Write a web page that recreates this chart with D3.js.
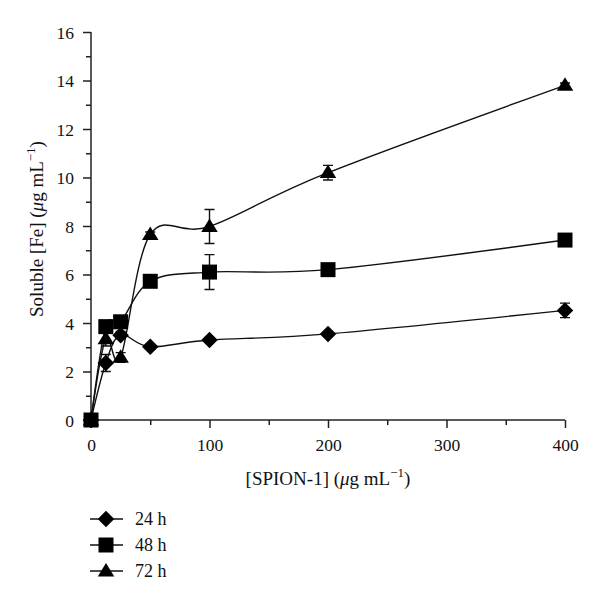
<!DOCTYPE html>
<html><head><meta charset="utf-8">
<script src="https://cdn.jsdelivr.net/npm/d3@7"></script>
<style>body{margin:0;background:#fff}svg{display:block}</style>
</head><body>
<svg id="c" width="600" height="594" font-family="'Liberation Serif', 'DejaVu Serif', serif"></svg>
<script>
const concentrations = [0, 12.5, 25, 50, 100, 200, 400];
const seriesNames = ["24 h", "48 h", "72 h"];
const values24 = [0, 2.35, 3.5, 3.02, 3.3, 3.55, 4.52];
const values48 = [0, 3.85, 4.05, 5.72, 6.1, 6.2, 7.42];
const values72 = [0, 3.35, 2.58, 7.65, 7.98, 10.2, 13.8];
const errors24 = [0, 0.35, 0.15, 0.1, 0.1, 0.1, 0.3];
const errors48 = [0, 0.15, 0.15, 0.1, 0.72, 0.1, 0.1];
const errors72 = [0, 0.3, 0.2, 0.1, 0.7, 0.3, 0.1];
const symbols = ["diamond", "square", "triangle"];
const xTicks = [0, 50, 100, 150, 200, 250, 300, 350, 400];
const xTickLabels = [0, 100, 200, 300, 400];
const yTicks = [0,1,2,3,4,5,6,7,8,9,10,11,12,13,14,15,16];
const yTickLabels = [0, 2, 4, 6, 8, 10, 12, 14, 16];

const FONT = "'Liberation Serif', 'DejaVu Serif', serif";
const svg = d3.select("#c");
const x = d3.scaleLinear().domain([0, 400]).range([91, 565]);
const y = d3.scaleLinear().domain([0, 16]).range([420, 32]);
const axisColor = "#222";

const gx = svg.append("g").attr("transform", "translate(0,420)");
gx.call(d3.axisBottom(x).tickValues(xTicks).tickSize(5).tickFormat(""));
gx.attr("font-family", FONT);
gx.selectAll(".tick line").filter(d => xTickLabels.includes(d)).attr("y2", 8);
gx.select(".domain").attr("d", `M${x(0)},0H${x(400)}`);
gx.selectAll(".tick").filter(d => xTickLabels.includes(d)).append("text")
  .attr("y", 31).attr("text-anchor", "middle").attr("font-size", 17.5).attr("font-family", FONT).attr("fill", "#111").text(d => d);

const gy = svg.append("g").attr("transform", "translate(91,0)");
gy.call(d3.axisLeft(y).tickValues(yTicks).tickSize(5).tickFormat(""));
gy.attr("font-family", FONT);
gy.selectAll(".tick line").filter(d => yTickLabels.includes(d)).attr("x2", -8);
gy.select(".domain").attr("d", `M0,${y(16)}V${y(0)}`);
gy.selectAll(".tick").filter(d => yTickLabels.includes(d)).append("text")
  .attr("x", -17).attr("dy", "0.35em").attr("text-anchor", "end").attr("font-size", 17.5).attr("font-family", FONT).attr("fill", "#111").text(d => d);

svg.selectAll(".domain, .tick line").attr("stroke", axisColor).attr("stroke-width", 1.5);

function symPath(type, s) {
  if (type === "diamond") return `M0,${-s*0.55}L${s*0.55},0L0,${s*0.55}L${-s*0.55},0Z`;
  if (type === "square") return `M${-s/2},${-s/2}h${s}v${s}h${-s}Z`;
  const h = s * 0.9;
  return `M0,${-h*0.6}L${s*0.55},${h*0.4}L${-s*0.55},${h*0.4}Z`;
}

const series = [
  {name: seriesNames[0], vals: values24, errs: errors24, sym: symbols[0]},
  {name: seriesNames[1], vals: values48, errs: errors48, sym: symbols[1]},
  {name: seriesNames[2], vals: values72, errs: errors72, sym: symbols[2]}
];

const line = d3.line().x(d => x(d[0])).y(d => y(d[1])).curve(d3.curveCardinal.tension(0));

series.forEach(s => {
  const pts = concentrations.map((c, i) => [c, s.vals[i], s.errs[i]]);
  svg.append("path").attr("d", line(pts)).attr("fill", "none").attr("stroke", "#111").attr("stroke-width", 1.4);
  const eg = svg.append("g");
  pts.forEach(p => {
    if (p[2] <= 0) return;
    const y1 = y(p[1] + p[2]), y2 = y(p[1] - p[2]), cx = x(p[0]);
    eg.append("path").attr("d", `M${cx},${y1}V${y2}M${cx-5},${y1}H${cx+5}M${cx-5},${y2}H${cx+5}`)
      .attr("stroke", "#111").attr("stroke-width", 1.4).attr("fill", "none");
  });
});
series.forEach(s => {
  svg.append("g").selectAll("path").data(concentrations.map((c, i) => [c, s.vals[i]])).join("path")
    .attr("transform", d => `translate(${x(d[0])},${y(d[1])})`)
    .attr("d", symPath(s.sym, 15)).attr("fill", "#000");
});

function richTitle(sel, prefix) {
  sel.attr("font-family", FONT).attr("fill", "#111");
  sel.append("tspan").text(prefix + " (");
  sel.append("tspan").attr("font-style", "italic").text("μ");
  sel.append("tspan").text("g mL");
  sel.append("tspan").attr("dy", -8).attr("font-size", 13).text("−1");
  sel.append("tspan").attr("dy", 8).text(")");
}
richTitle(svg.append("text").attr("x", 328).attr("y", 485).attr("text-anchor", "middle").attr("font-size", 19), "[SPION-1]");
richTitle(svg.append("text").attr("transform", "translate(43,229) rotate(-90)").attr("text-anchor", "middle").attr("font-size", 19), "Soluble [Fe]");

const legY = [519, 545, 571];
series.forEach((s, i) => {
  const g = svg.append("g").attr("transform", `translate(0,${legY[i]})`);
  g.append("line").attr("x1", 90).attr("x2", 123).attr("stroke", "#111").attr("stroke-width", 1.4);
  g.append("path").attr("transform", "translate(106,0)").attr("d", symPath(s.sym, 15)).attr("fill", "#000");
  g.append("text").attr("x", 135).attr("dy", "0.35em").attr("font-size", 18).attr("font-family", FONT).attr("fill", "#111").text(s.name);
});
</script>
</body></html>
